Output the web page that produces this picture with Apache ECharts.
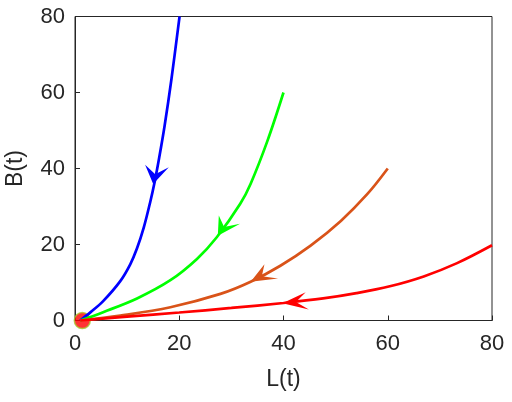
<!DOCTYPE html>
<html lang="en">
<head>
    <meta charset="UTF-8">
    <title>L(t) vs B(t)</title>
    <script src="https://cdn.jsdelivr.net/npm/echarts@6.0.0/dist/echarts.min.js"></script>
    <style>
        html, body { margin: 0; padding: 0; background: #fff; }
        #chart { width: 512px; height: 402px; }
    </style>
</head>
<body>
<div id="chart"></div>
<script>
    // trajectories, [L, B]
    var blueCurve = [[1, 0], [3, 2.2], [5.4, 5.1], [8.65, 10.3], [10.6, 14.8], [11.9, 19.0], [13.2, 24.5],
        [14.4, 31.0], [15.3, 36.6], [16.15, 42.8], [17.2, 51.3], [18.5, 63.5], [20.06, 80]];
    var greenCurve = [[1, 0], [5.4, 2.2], [11.9, 5.8], [18.3, 10.6], [23.4, 16.2], [27.2, 21.9],
        [31.7, 30.7], [33.7, 36.0], [36.9, 47.2], [40, 60]];
    var orangeCurve = [[1, 0], [8.7, 1.3], [18.3, 3.5], [27.9, 7.0], [33.7, 10.2], [39.4, 14.4],
        [45.2, 19.7], [51, 26.2], [56.1, 33.3], [60, 40]];
    var redCurve = [[1, 0], [10, 1.0], [20, 2.1], [30, 3.3], [40, 4.6], [47.6, 5.8], [54, 7.2],
        [60.4, 9.0], [66.9, 11.6], [73.3, 15.1], [80, 19.8]];

    // arrow heads: tip L, tip B, upstream L, upstream B
    var arrows = [
        [15.0, 35.9, 15.7, 40.5],
        [27.4, 22.3, 29.6, 26.5],
        [33.7, 10.2, 36.6, 12.2],
        [39.8, 4.55, 44, 5.1]
    ];
    var lineColors = ['#0000ff', '#00ff00', '#d95319', '#ff0000'];
    var equilibrium = [[1.4, 0]];

    var xTicks = {min: 0, max: 80, interval: 20};
    var yTicks = {min: 0, max: 80, interval: 20};

    var font = 'Liberation Sans, Helvetica, Arial, sans-serif';
    var axisColor = '#262626';

    var chart = echarts.init(document.getElementById('chart'));

    function curve(data, color) {
        return {
            type: 'line',
            data: data,
            smooth: 0.35,
            showSymbol: false,
            symbol: 'none',
            clip: true,
            z: 3,
            lineStyle: {color: color, width: 2.7},
            silent: true
        };
    }

    var option = {
        animation: false,
        grid: {
            left: 75, right: 20, top: 16.5, bottom: 81.5,
            outerBoundsMode: 'none',
            containLabel: false,
            show: true, borderColor: axisColor, borderWidth: 1, backgroundColor: 'transparent'
        },
        xAxis: {
            type: 'value',
            min: xTicks.min, max: xTicks.max, interval: xTicks.interval,
            name: 'L(t)',
            nameLocation: 'middle',
            nameGap: 48,
            nameTextStyle: {fontFamily: font, fontSize: 23, color: axisColor},
            axisLine: {show: true, lineStyle: {color: axisColor, width: 1}},
            axisTick: {show: true, inside: true, length: 5, lineStyle: {color: axisColor}},
            axisLabel: {fontFamily: font, fontSize: 22, color: axisColor, margin: 12},
            splitLine: {show: false}
        },
        yAxis: {
            type: 'value',
            min: yTicks.min, max: yTicks.max, interval: yTicks.interval,
            name: 'B(t)',
            nameLocation: 'middle',
            nameGap: 48,
            nameTextStyle: {fontFamily: font, fontSize: 23, color: axisColor},
            axisLine: {show: true, lineStyle: {color: axisColor, width: 1}},
            axisTick: {show: true, inside: true, length: 5, lineStyle: {color: axisColor}},
            axisLabel: {fontFamily: font, fontSize: 22, color: axisColor, margin: 10},
            splitLine: {show: false}
        },
        series: [
            {
                type: 'scatter',
                data: equilibrium,
                symbol: 'circle',
                symbolSize: 16,
                z: 2,
                itemStyle: {color: '#ff0000', borderColor: '#a8c830', borderWidth: 1.5},
                silent: true
            },
            curve(blueCurve, lineColors[0]),
            curve(greenCurve, lineColors[1]),
            curve(orangeCurve, lineColors[2]),
            curve(redCurve, lineColors[3]),
            {
                type: 'custom',
                data: arrows,
                z: 4,
                silent: true,
                renderItem: function (params, api) {
                    var tx = api.value(0), ty = api.value(1);
                    var ux = api.value(2) - tx, uy = api.value(3) - ty;
                    var len = Math.sqrt(ux * ux + uy * uy);
                    ux /= len; uy /= len;
                    var nx = -uy, ny = ux;
                    // head size in data units
                    var hl = 4.8, hw = 2.3, notch = 2.6;
                    var pts = [
                        api.coord([tx, ty]),
                        api.coord([tx + hl * ux + hw * nx, ty + hl * uy + hw * ny]),
                        api.coord([tx + notch * ux, ty + notch * uy]),
                        api.coord([tx + hl * ux - hw * nx, ty + hl * uy - hw * ny])
                    ];
                    return {
                        type: 'polygon',
                        shape: {points: pts},
                        style: {fill: lineColors[params.dataIndex], stroke: null}
                    };
                }
            }
        ]
    };
    chart.setOption(option);
</script>
</body>
</html>
